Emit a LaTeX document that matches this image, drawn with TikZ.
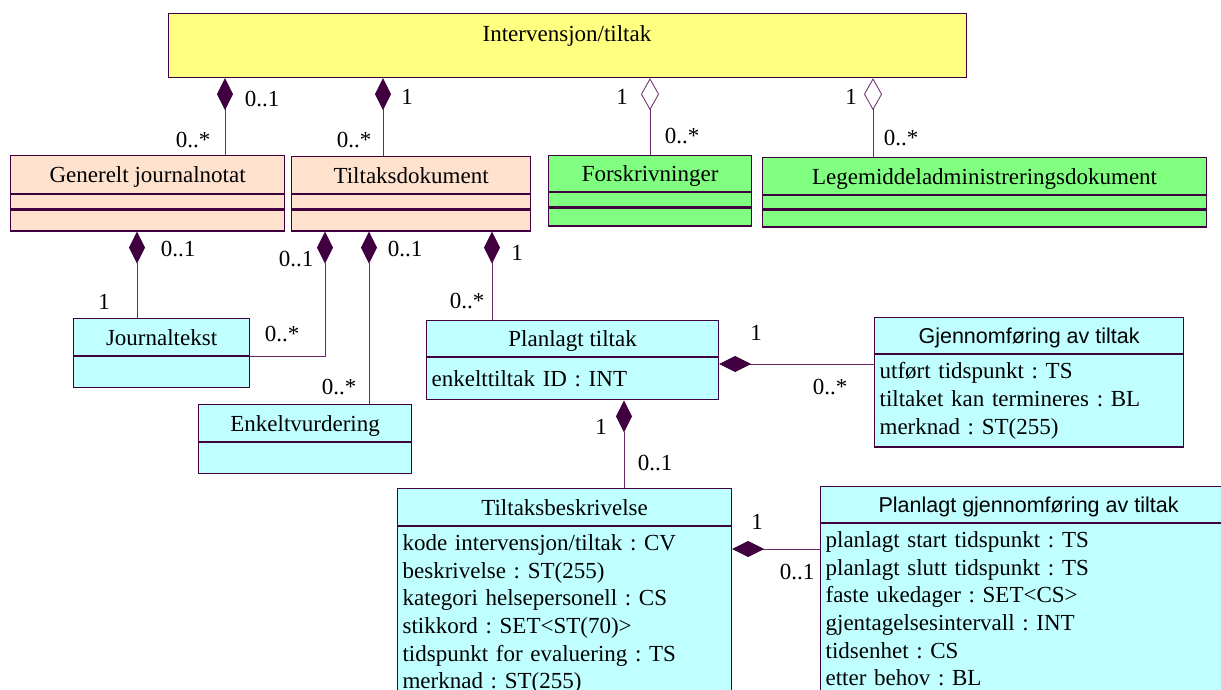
\documentclass[tikz,border=0pt]{standalone}
\usepackage{fontspec}
\setmainfont{Liberation Serif}
\newfontfamily\umlsans{Liberation Sans}
\usepackage{tikz}
\usetikzlibrary{arrows.meta,positioning}
\frenchspacing

\definecolor{yellowc}{RGB}{255,255,128}
\definecolor{peachc}{RGB}{255,226,206}
\definecolor{greenc}{RGB}{128,255,128}
\definecolor{cyanc}{RGB}{192,255,255}
\definecolor{boxc}{RGB}{64,0,64}
\definecolor{linec}{RGB}{104,40,104}
\definecolor{diamc}{RGB}{64,0,64}

\begin{document}
\begin{tikzpicture}[x=1pt,y=-1pt,font=\fontsize{23pt}{27.6pt}\selectfont,
  classbox/.style={draw=boxc,line width=1.2pt,anchor=north west,inner sep=0pt,text height=16pt,text depth=0pt},
  compart/.style={draw=boxc,line width=1.2pt,inner sep=0pt,below=0pt of #1},
  attrpart/.style={draw=boxc,line width=1.2pt,inner xsep=5pt,inner ysep=8pt,align=left,below=0pt of #1},
  compose/.style={draw=linec,line width=0.8pt,{Diamond[length=32pt,width=16pt,fill=diamc,color=diamc]}-},
  aggregate/.style={draw=linec,line width=0.8pt,{Diamond[open,length=32pt,width=18pt]}-},
  multlabel/.style={inner sep=0pt}]
  \useasboundingbox (0,0) rectangle (1221,690);
  \clip (0,0) rectangle (1221,690);

  \node[classbox,fill=yellowc,minimum width=798pt,minimum height=64pt] (A) at (168,13) {};
  \node (A0) at (567,36) {Intervensjon/tiltak};

  \node[classbox,fill=peachc,minimum width=274pt,minimum height=38pt] (B) at (10,155) {Generelt journalnotat};
  \node[compart=B,fill=peachc,minimum width=274pt,minimum height=14pt] (B1) {};
  \node[compart=B1,fill=peachc,minimum width=274pt,minimum height=21pt] (B2) {};

  \node[classbox,fill=peachc,minimum width=239pt,minimum height=37pt] (C) at (291,156) {Tiltaksdokument};
  \node[compart=C,fill=peachc,minimum width=239pt,minimum height=14pt] (C1) {};
  \node[compart=C1,fill=peachc,minimum width=239pt,minimum height=21pt] (C2) {};

  \node[classbox,fill=greenc,minimum width=203pt,minimum height=36pt] (D) at (548,155) {Forskrivninger};
  \node[compart=D,fill=greenc,minimum width=203pt,minimum height=14pt] (D1) {};
  \node[compart=D1,fill=greenc,minimum width=203pt,minimum height=18pt] (D2) {};

  \node[classbox,fill=greenc,minimum width=444pt,minimum height=37pt] (E) at (762,157) {Legemiddeladministreringsdokument};
  \node[compart=E,fill=greenc,minimum width=444pt,minimum height=13pt] (E1) {};
  \node[compart=E1,fill=greenc,minimum width=444pt,minimum height=17pt] (E2) {};

  \node[classbox,fill=cyanc,minimum width=176pt,minimum height=37pt] (F) at (73,318) {Journaltekst};
  \node[compart=F,fill=cyanc,minimum width=176pt,minimum height=31pt] (F1) {};

  \node[classbox,fill=cyanc,minimum width=213pt,minimum height=37pt] (G) at (198,404) {Enkeltvurdering};
  \node[compart=G,fill=cyanc,minimum width=213pt,minimum height=31pt] (G1) {};

  \node[classbox,fill=cyanc,minimum width=292pt,minimum height=36pt] (H) at (426,320) {Planlagt tiltak};
  \node[attrpart=H,fill=cyanc,text width=282pt,minimum height=42pt] (H1) {enkelttiltak ID : INT};

  \node[classbox,fill=cyanc,minimum width=309pt,minimum height=36pt,font=\umlsans\fontsize{21.5pt}{26pt}\selectfont] (I) at (874,317) {Gjennomføring av tiltak};
  \node[attrpart=I,fill=cyanc,text width=299pt,minimum height=91pt] (I1) {utført tidspunkt : TS\\tiltaket kan termineres : BL\\merknad : ST(255)};

  \node[classbox,fill=cyanc,minimum width=334pt,minimum height=37pt] (J) at (397,488) {Tiltaksbeskrivelse};
  \node[attrpart=J,fill=cyanc,text width=324pt] (J1) {kode intervensjon/tiltak : CV\\beskrivelse : ST(255)\\kategori helsepersonell : CS\\stikkord : SET<ST(70)>\\tidspunkt for evaluering : TS\\merknad : ST(255)};

  \node[classbox,fill=cyanc,minimum width=416pt,minimum height=36pt,font=\umlsans\fontsize{21.5pt}{26pt}\selectfont] (K) at (820,486) {Planlagt gjennomføring av tiltak};
  \node[attrpart=K,fill=cyanc,text width=406pt] (K1) {planlagt start tidspunkt : TS\\planlagt slutt tidspunkt : TS\\faste ukedager : SET<CS>\\gjentagelsesintervall : INT\\tidsenhet : CS\\etter behov : BL};

  \draw[compose] (225,0 |- A.south) -- (225,0 |- B.north);
  \draw[compose] (383,0 |- A.south) -- (383,0 |- C.north);
  \draw[aggregate] (650,0 |- A.south) -- (650,0 |- D.north);
  \draw[aggregate] (873,0 |- A.south) -- (873,0 |- E.north);
  \draw[compose] (137,0 |- B2.south) -- (137,0 |- F.north);
  \draw[compose] (325,0 |- C2.south) |- (F.south east);
  \draw[compose] (369,0 |- C2.south) -- (369,0 |- G.north);
  \draw[compose] (492,0 |- C2.south) -- (492,0 |- H.north);
  \draw[compose] (H1.east |- 0,364) -- (I1.west |- 0,364);
  \draw[compose] (624,0 |- H1.south) -- (624,0 |- J.north);
  \draw[compose] (J1.east |- 0,549) -- (K1.west |- 0,549);

  \node[multlabel] (L1) at (262,99) {0..1};
  \node[multlabel] (L2) at (193,140) {0..*};
  \node[multlabel] (L3) at (407,97) {1};
  \node[multlabel] (L4) at (354,140) {0..*};
  \node[multlabel] (L5) at (622,97) {1};
  \node[multlabel] (L6) at (682,136) {0..*};
  \node[multlabel] (L7) at (851,97) {1};
  \node[multlabel] (L8) at (901,138) {0..*};
  \node[multlabel] (L9) at (178,249) {0..1};
  \node[multlabel] (L10) at (104,302) {1};
  \node[multlabel] (L11) at (296,259) {0..1};
  \node[multlabel] (L12) at (282,334) {0..*};
  \node[multlabel] (L13) at (405,249) {0..1};
  \node[multlabel] (L14) at (339,387) {0..*};
  \node[multlabel] (L15) at (517,253) {1};
  \node[multlabel] (L16) at (467,301) {0..*};
  \node[multlabel] (L17) at (756,333) {1};
  \node[multlabel] (L18) at (830,387) {0..*};
  \node[multlabel] (L19) at (601,427) {1};
  \node[multlabel] (L20) at (655,463) {0..1};
  \node[multlabel] (L21) at (757,522) {1};
  \node[multlabel] (L22) at (797,572) {0..1};
\end{tikzpicture}
\end{document}
